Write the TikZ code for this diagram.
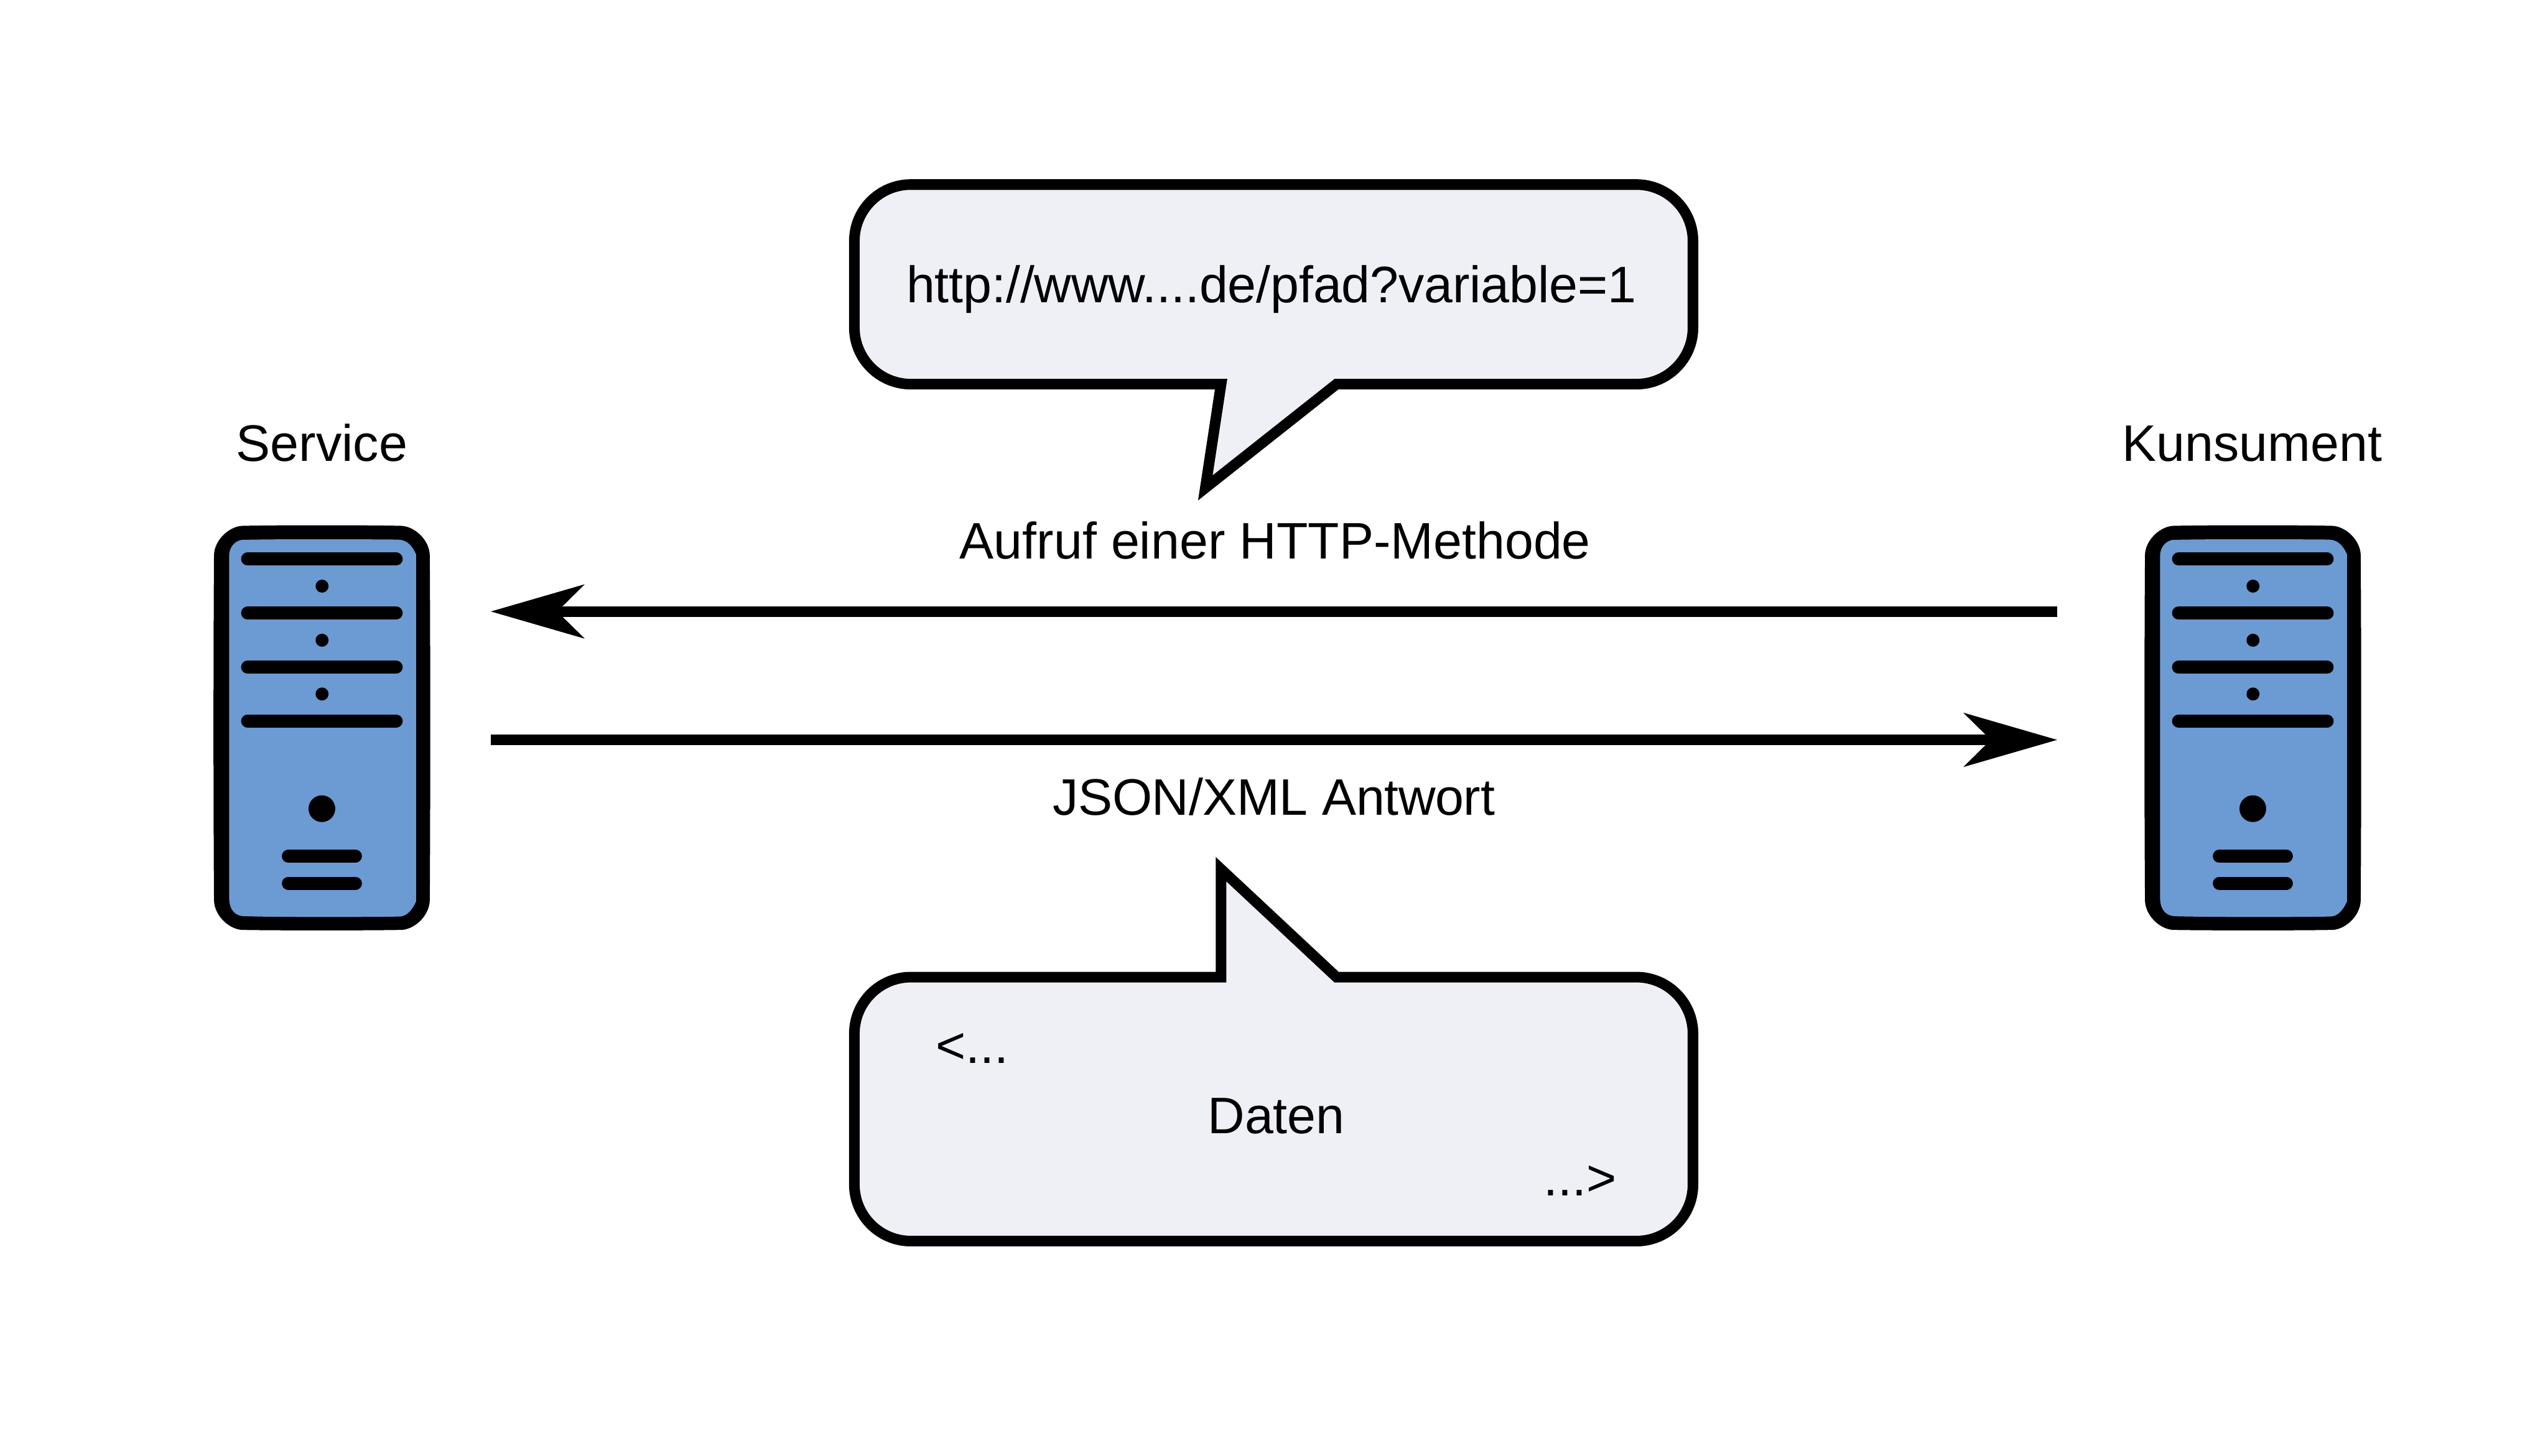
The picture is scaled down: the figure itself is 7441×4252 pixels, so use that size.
\documentclass[tikz,border=0pt]{standalone}
\usepackage{fontspec}
\setmainfont{Liberation Sans}
\usetikzlibrary{arrows.meta}
\definecolor{srvblue}{HTML}{6C9AD3}
\definecolor{bubblefill}{HTML}{EFF0F6}
\tikzset{
  lbl/.style={anchor=base,inner sep=0pt,outer sep=0pt,font=\fontsize{15}{18}\selectfont},
  lbltight/.style={lbl,font=\fontsize{15}{18}\selectfont\addfontfeature{LetterSpace=-0.45}},
  lblurl/.style={lbl,font=\fontsize{15}{18}\selectfont\addfontfeature{LetterSpace=-0.15}},
  bubble/.style={draw=black,fill=bubblefill,line width=3.1pt,miter limit=20},
  bar/.style={line width=3.8pt,line cap=round,draw=black},
  flow/.style={line width=3.1pt,draw=black,-{Stealth[length=27.2pt,width=15.6pt,inset=7.8pt]}},
  led/.style={fill=black,draw=none}
}
\newcommand{\serverpic}[1]{%
\begin{scope}[shift={(#1,0)}]
  \fill[black] (705,1536) .. controls (800,1533.5) and (1080,1533.5) .. (1175,1536)
     .. controls (1215,1540) and (1254,1580) .. (1255,1621)
     .. controls (1257,1900) and (1257,2350) .. (1255,2630)
     .. controls (1254,2672) and (1215,2712) .. (1175,2716)
     .. controls (1080,2718) and (800,2718) .. (705,2716)
     .. controls (665,2712) and (626,2672) .. (625,2630)
     .. controls (623,2350) and (623,1900) .. (625,1621)
     .. controls (626,1580) and (665,1540) .. (705,1536) -- cycle;
  \fill[srvblue] (705,1577) .. controls (800,1574) and (1060,1575) .. (1161,1576)
     .. controls (1185,1577) and (1200,1587) .. (1215,1619)
     -- (1215,2633) .. controls (1200,2665) and (1185,2676) .. (1167,2677)
     .. controls (1060,2679) and (800,2679) .. (710,2676)
     .. controls (688,2674) and (669,2660) .. (669,2620)
     -- (669,1625) .. controls (669,1598) and (685,1581) .. (705,1577) -- cycle;
  \draw[bar] (723,1633) -- (1157,1633);
  \draw[bar] (723,1791) -- (1157,1791);
  \draw[bar] (723,1949) -- (1157,1949);
  \draw[bar] (723,2106) -- (1157,2106);
  \fill[led] (940.5,1712) circle[radius=1.9pt];
  \fill[led] (940.5,1870) circle[radius=1.9pt];
  \fill[led] (940.5,2027) circle[radius=1.9pt];
  \fill[led] (940,2362) circle[radius=3.9pt];
  \draw[bar] (842,2501) -- (1038,2501);
  \draw[bar] (842,2580) -- (1038,2580);
\end{scope}}
\begin{document}
\begin{tikzpicture}[x=0.1pt,y=-0.1pt]
\useasboundingbox (0,0) rectangle (7441,4252);
\fill[white] (0,0) rectangle (7441,4252);
\serverpic{0}
\serverpic{5639}
% bubbles
\draw[bubble] (2660,539) -- (4779,539) .. controls (4870,539) and (4944,613) .. (4944,704)
  -- (4944,957) .. controls (4944,1048) and (4870,1122) .. (4779,1122)
  -- (3903,1122) -- (3520,1425) -- (3566,1122)
  -- (2660,1122) .. controls (2569,1122) and (2495,1048) .. (2495,957)
  -- (2495,704) .. controls (2495,613) and (2569,539) .. (2660,539) -- cycle;
\draw[bubble] (2660,2854) -- (3566,2854) -- (3566,2539) -- (3903,2854)
  -- (4779,2854) .. controls (4870,2854) and (4944,2928) .. (4944,3019)
  -- (4944,3460) .. controls (4944,3551) and (4870,3625) .. (4779,3625)
  -- (2660,3625) .. controls (2569,3625) and (2495,3551) .. (2495,3460)
  -- (2495,3019) .. controls (2495,2928) and (2569,2854) .. (2660,2854) -- cycle;
% arrows
\coordinate (callstart) at (6008,1786);
\coordinate (callend) at (1433,1786);
\coordinate (replystart) at (1433,2161);
\coordinate (replyend) at (6008,2161);
\draw[flow] (callstart) -- (callend);
\draw[flow] (replystart) -- (replyend);
% labels
\node[lbl] (service) at (940,1347) {Service};
\node[lbl] (kons) at (6577,1347) {Kunsument};
\node[lblurl] (url) at (3713,883) {http://www....de/pfad?variable=1};
\node[lbl] (aufruf) at (3724,1632) {Aufruf einer HTTP-Methode};
\node[lbltight] (json) at (3720,2381) {JSON/XML Antwort};
\node[lbl] (daten) at (3727,3311) {Daten};
\node[lbl,anchor=base west] (open) at (2733,3106) {<...};
\node[lbl,anchor=base east] (close) at (4720,3493) {...>};
\end{tikzpicture}
\end{document}
